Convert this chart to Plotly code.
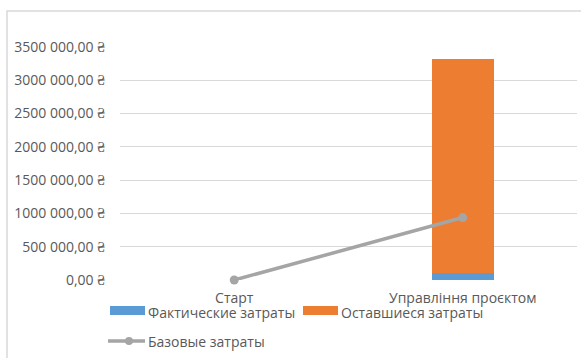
import plotly.graph_objects as go

# Data
categories = ["Старт", "Управління проєктом"]
actual_costs = [0, 110000]
remaining_costs = [0, 3206000]
baseline_costs = [0, 938000]
series_names = ["Фактические затраты", "Оставшиеся затраты", "Базовые затраты"]
tick_values = [0, 500000, 1000000, 1500000, 2000000, 2500000, 3000000, 3500000]
tick_labels = ["0,00 ₴", "500 000,00 ₴", "1000 000,00 ₴", "1500 000,00 ₴",
               "2000 000,00 ₴", "2500 000,00 ₴", "3000 000,00 ₴", "3500 000,00 ₴"]

BLUE = "#5B9BD5"
ORANGE = "#ED7D31"
GRAY = "#A5A5A5"
TEXT = "#595959"
GRID = "#D9D9D9"
FONT = "Open Sans"

W, H = 581, 358
ML, MR, MT, MB = 120, 4, 47, 78
PW, PH = W - ML - MR, H - MT - MB


def px(x):
    return (x - ML) / PW


def py(y):
    return (H - MB - y) / PH


fig = go.Figure()
fig.add_trace(go.Bar(x=categories, y=actual_costs, name=series_names[0],
                     marker=dict(color=BLUE, line=dict(width=0))))
fig.add_trace(go.Bar(x=categories, y=remaining_costs, name=series_names[1],
                     marker=dict(color=ORANGE, line=dict(width=0))))
fig.add_trace(go.Scatter(x=categories, y=baseline_costs, name=series_names[2],
                         mode="lines+markers", cliponaxis=False,
                         line=dict(color=GRAY, width=3.5),
                         marker=dict(color=GRAY, size=9)))

shapes = [
    # outer chart frame
    dict(type="rect", xref="paper", yref="paper",
         x0=px(7), x1=px(W + 20), y0=py(H + 20), y1=py(11),
         line=dict(color=GRID, width=1.5), fillcolor="rgba(0,0,0,0)", layer="below"),
    # legend swatches
    dict(type="rect", xref="paper", yref="paper", x0=px(110), x1=px(145),
         y0=py(315), y1=py(306), fillcolor=BLUE, line=dict(width=0)),
    dict(type="rect", xref="paper", yref="paper", x0=px(303), x1=px(338),
         y0=py(315), y1=py(306), fillcolor=ORANGE, line=dict(width=0)),
    dict(type="line", xref="paper", yref="paper", x0=px(108), x1=px(145),
         y0=py(341), y1=py(341), line=dict(color=GRAY, width=3.5)),
    dict(type="circle", xref="paper", yref="paper", x0=px(125), x1=px(133),
         y0=py(345), y1=py(337), fillcolor=GRAY, line=dict(width=0)),
]

annotations = [
    dict(text=series_names[0], x=px(146), y=py(312), xanchor="left", yanchor="middle"),
    dict(text=series_names[1], x=px(339), y=py(312), xanchor="left", yanchor="middle"),
    dict(text=series_names[2], x=px(146), y=py(341), xanchor="left", yanchor="middle"),
]
for a in annotations:
    a.update(xref="paper", yref="paper", showarrow=False,
             font=dict(family=FONT, size=14, color=TEXT))

fig.update_layout(
    width=W, height=H,
    margin=dict(l=ML, r=MR, t=MT, b=MB),
    paper_bgcolor="white", plot_bgcolor="white",
    barmode="stack", bargap=0.73,
    showlegend=False,
    shapes=shapes, annotations=annotations,
    font=dict(family=FONT, size=14, color=TEXT),
    xaxis=dict(showgrid=False, showline=False, ticks="", zeroline=False,
               tickfont=dict(family=FONT, size=14, color=TEXT), ticklabelstandoff=8),
    yaxis=dict(range=[0, 3500000], tickvals=tick_values, ticktext=tick_labels,
               showgrid=True, gridcolor=GRID, gridwidth=1, zeroline=False,
               showline=False, ticks="", ticklabelstandoff=14,
               tickfont=dict(family=FONT, size=14, color=TEXT)),
)

fig.write_html("out.html")
